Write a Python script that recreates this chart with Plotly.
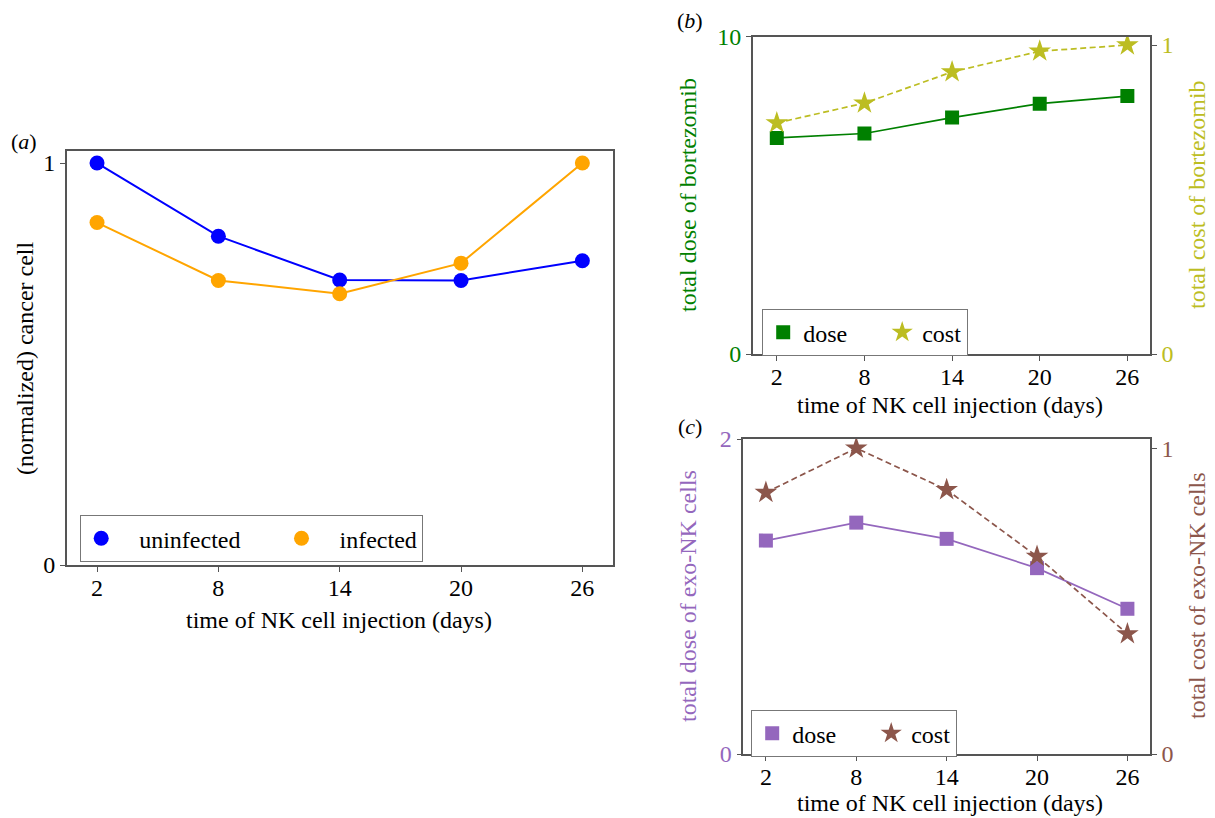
import plotly.graph_objects as go

# ---------------- data ----------------
days = [2, 8, 14, 20, 26]
tick_labels = ["2", "8", "14", "20", "26"]

uninfected = [1.0, 0.818, 0.709, 0.708, 0.757]
infected = [0.852, 0.708, 0.675, 0.751, 1.0]

bort_dose = [6.81, 6.95, 7.45, 7.89, 8.13]
bort_cost = [0.748, 0.812, 0.913, 0.980, 1.0]

nk_dose = [1.355, 1.469, 1.366, 1.18, 0.922]
nk_cost = [0.855, 1.0, 0.864, 0.646, 0.393]

# ---------------- styling ----------------
OFF = 8  # page body margin
W, H = 1215 - OFF, 818 - OFF
FONT = "Liberation Serif, Times New Roman, serif"
FS = 24
FRAME = "#555555"
BLUE, ORANGE = "#0000ff", "#ffa500"
GREEN, OLIVE = "#008000", "#bcbd22"
PURPLE, BROWN = "#9467bd", "#8c564b"
NB = "\u00a0"
DASH = "6px,3.5px"


def px_x(p):
    return (p - OFF) / W


def px_y(p):
    return 1 - (p - OFF) / H


fig = go.Figure()

# ---- panel (a)
fig.add_trace(go.Scatter(x=days, y=uninfected, mode="lines", line=dict(color=BLUE, width=2),
                         showlegend=False, xaxis="x", yaxis="y"))
fig.add_trace(go.Scatter(x=days, y=infected, mode="lines", line=dict(color=ORANGE, width=2),
                         showlegend=False, xaxis="x", yaxis="y"))
fig.add_trace(go.Scatter(x=days, y=uninfected, mode="markers", name=NB * 3 + "uninfected" + NB * 6,
                         marker=dict(color=BLUE, size=15, symbol="circle"),
                         xaxis="x", yaxis="y", legend="legend"))
fig.add_trace(go.Scatter(x=days, y=infected, mode="markers", name=NB * 3 + "infected",
                         marker=dict(color=ORANGE, size=15, symbol="circle"),
                         xaxis="x", yaxis="y", legend="legend"))

# ---- panel (b)
fig.add_trace(go.Scatter(x=days, y=bort_dose, mode="lines", line=dict(color=GREEN, width=1.7),
                         showlegend=False, xaxis="x2", yaxis="y2"))
fig.add_trace(go.Scatter(x=days, y=bort_cost, mode="lines", line=dict(color=OLIVE, width=1.7, dash=DASH),
                         showlegend=False, xaxis="x2", yaxis="y3"))
fig.add_trace(go.Scatter(x=days, y=bort_dose, mode="markers", name="dose" + NB * 5,
                         marker=dict(color=GREEN, size=14, symbol="square"),
                         xaxis="x2", yaxis="y2", legend="legend2"))
fig.add_trace(go.Scatter(x=days, y=bort_cost, mode="markers", name="cost",
                         marker=dict(color=OLIVE, size=17, symbol="star"),
                         xaxis="x2", yaxis="y3", legend="legend2"))

# ---- panel (c)
fig.add_trace(go.Scatter(x=days, y=nk_dose, mode="lines", line=dict(color=PURPLE, width=1.7),
                         showlegend=False, xaxis="x3", yaxis="y4"))
fig.add_trace(go.Scatter(x=days, y=nk_cost, mode="lines", line=dict(color=BROWN, width=1.7, dash=DASH),
                         showlegend=False, xaxis="x3", yaxis="y5"))
fig.add_trace(go.Scatter(x=days, y=nk_dose, mode="markers", name="dose" + NB * 5,
                         marker=dict(color=PURPLE, size=14, symbol="square"),
                         xaxis="x3", yaxis="y4", legend="legend3"))
fig.add_trace(go.Scatter(x=days, y=nk_cost, mode="markers", name="cost",
                         marker=dict(color=BROWN, size=17, symbol="star"),
                         xaxis="x3", yaxis="y5", legend="legend3"))

common_axis = dict(showgrid=False, zeroline=False, showline=True, linecolor=FRAME, linewidth=1.5,
                   ticks="outside", ticklen=5, tickwidth=1.2, tickcolor=FRAME, automargin=False,
                   tickfont=dict(family=FONT, size=FS, color="black"))


def xax(domain, anchor, rng):
    d = dict(common_axis)
    d.update(domain=domain, anchor=anchor, range=rng, tickvals=days, ticktext=tick_labels, mirror=True,
             ticklabelstandoff=-5)
    return d


def yax(domain, anchor, rng, tv, color, side="left", overlaying=None, mirror=False):
    d = dict(common_axis)
    d.update(anchor=anchor, range=rng, tickvals=tv, ticktext=[str(v) for v in tv], side=side,
             tickfont=dict(family=FONT, size=FS, color=color), mirror=mirror)
    if overlaying:
        d["overlaying"] = overlaying
    else:
        d["domain"] = domain
    return d


a_x = [px_x(66.7), px_x(612.7)]
a_y = [px_y(565), px_y(151)]
b_x = [px_x(752.7), px_x(1150)]
b_y = [px_y(354), px_y(36.7)]
c_x = [px_x(743.3), px_x(1150)]
c_y = [px_y(754), px_y(439)]

legend_style = dict(orientation="h", xanchor="left", yanchor="top", bgcolor="white",
                    bordercolor="#777777", borderwidth=1.2, entrywidth=0,
                    font=dict(family=FONT, size=FS, color="black"))

fig.update_layout(
    width=W, height=H,
    margin=dict(l=0, r=0, t=0, b=0, autoexpand=False),
    paper_bgcolor="white", plot_bgcolor="white",
    font=dict(family=FONT, size=FS, color="black"),
    xaxis=xax(a_x, "y", [0.5, 27.5]),
    yaxis=yax(a_y, "x", [0, 1.03], [0, 1], "black", mirror=True),
    xaxis2=xax(b_x, "y2", [0.35, 27.55]),
    yaxis2=yax(b_y, "x2", [0, 10], [0, 10], GREEN),
    yaxis3=yax(None, "x2", [0, 1.027], [0, 1], OLIVE, side="right", overlaying="y2"),
    xaxis3=xax(c_x, "y4", [0.5, 27.5]),
    yaxis4=yax(c_y, "x3", [0, 2], [0, 2], PURPLE),
    yaxis5=yax(None, "x3", [0, 1.03], [0, 1], BROWN, side="right", overlaying="y4"),
    legend=dict(legend_style, x=px_x(80), y=px_y(515)),
    legend2=dict(legend_style, x=px_x(762), y=px_y(309)),
    legend3=dict(legend_style, x=px_x(751), y=px_y(710)),
)

ann = []


def text(x, y, s, color="black", angle=0, size=FS):
    ann.append(dict(x=px_x(x), y=px_y(y), xref="paper", yref="paper", text=s, showarrow=False,
                    textangle=angle, xanchor="center", yanchor="middle",
                    font=dict(family=FONT, size=size, color=color)))


# axis titles
text(339, 620, "time of NK cell injection (days)")
text(950, 405, "time of NK cell injection (days)")
text(950, 803, "time of NK cell injection (days)")
text(25, 358, "(normalized) cancer cell", angle=-90)
text(688, 195, "total dose of bortezomib", GREEN, angle=-90)
text(1197, 195, "total cost of bortezomib", OLIVE, angle=-90)
text(688, 596, "total dose of exo-NK cells", PURPLE, angle=-90)
text(1197, 596, "total cost of exo-NK cells", BROWN, angle=-90)
# panel labels
text(24, 141, "(<i>a</i>)", size=22)
text(690, 20, "(<i>b</i>)", size=22)
text(690, 426, "(<i>c</i>)", size=22)

fig.update_layout(annotations=ann)

fig.write_html("out.html")
